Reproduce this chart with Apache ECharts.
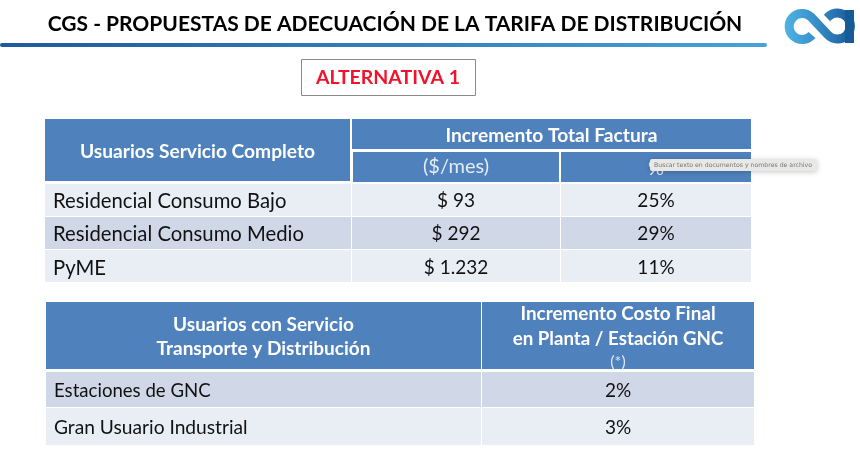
<!DOCTYPE html>
<html>
<head>
<meta charset="utf-8">
<style>html,body{margin:0;padding:0;background:#fff}#main{width:860px;height:461px}</style>
<script src="https://cdn.jsdelivr.net/npm/echarts@6/dist/echarts.min.js"></script>
</head>
<body>
<div id="main"></div>
<script>
const HEAD = '#4F81BD', LIGHT = '#E9EDF4', DARK = '#D0D8E8', NONE = 'transparent', FONT = 'Lato';

// celdas de las tablas: x0, x1, y0, y1, fondo, texto, color, tamaño, negrita, alineado, ajuste y
const cells = [
  [45, 350, 119, 181, HEAD, 'Usuarios Servicio Completo', '#fff', 19.2, 'bold', 'center', 2],
  [352, 751, 119, 149, HEAD, 'Incremento Total Factura', '#fff', 19.2, 'bold', 'center', 2],
  [353, 559, 152, 182, HEAD, '($/mes)', '#E4ECF6', 20, 'normal', 'center', 0],
  [561, 751, 152, 182, HEAD, '%', '#E4ECF6', 20, 'normal', 'center', 2],

  [45, 351, 184, 216, LIGHT, 'Residencial Consumo Bajo', '#111', 20.3, 'normal', 'left', 1],
  [352, 560, 184, 216, LIGHT, '$ 93', '#111', 19, 'normal', 'center', 1],
  [561, 751, 184, 216, LIGHT, '25%', '#111', 19, 'normal', 'center', 1],
  [45, 351, 217, 249, DARK, 'Residencial Consumo Medio', '#111', 20.3, 'normal', 'left', 1],
  [352, 560, 217, 249, DARK, '$ 292', '#111', 19, 'normal', 'center', 1],
  [561, 751, 217, 249, DARK, '29%', '#111', 19, 'normal', 'center', 1],
  [45, 351, 250, 282, LIGHT, 'PyME', '#111', 20.3, 'normal', 'left', 2],
  [352, 560, 250, 282, LIGHT, '$ 1.232', '#111', 19, 'normal', 'center', 2],
  [561, 751, 250, 282, LIGHT, '11%', '#111', 19, 'normal', 'center', 2],

  [46, 481, 302, 369, HEAD, '', '#fff', 19, 'bold', 'center', 0],
  [482, 754, 302, 369, HEAD, '', '#fff', 19, 'bold', 'center', 0],
  [46, 481, 313, 337, NONE, 'Usuarios con Servicio', '#fff', 19, 'bold', 'center', 0],
  [46, 481, 337, 361, NONE, 'Transporte y Distribución', '#fff', 19, 'bold', 'center', 0],
  [482, 754, 302, 326, NONE, 'Incremento Costo Final', '#fff', 18.9, 'bold', 'center', 0],
  [482, 754, 327, 351, NONE, 'en Planta / Estación GNC', '#fff', 18.7, 'bold', 'center', 0],
  [482, 754, 350, 374, NONE, '(*)', '#DDE6F2', 16, 'normal', 'center', 0],
  [46, 481, 372, 407, DARK, 'Estaciones de GNC', '#111', 18.6, 'normal', 'left', 1],
  [482, 754, 372, 407, DARK, '2%', '#111', 19, 'normal', 'center', 1],
  [46, 481, 408, 445, LIGHT, 'Gran Usuario Industrial', '#111', 19.2, 'normal', 'left', 1],
  [482, 754, 408, 445, LIGHT, '3%', '#111', 19, 'normal', 'center', 1]
];

const myChart = echarts.init(document.getElementById('main'), null, { renderer: 'canvas' });

function renderCell(params, api) {
  const c = cells[params.dataIndex];
  const p0 = api.coord([c[0], c[2]]);
  const p1 = api.coord([c[1], c[3]]);
  const left = c[9] === 'left';
  return {
    type: 'rect',
    shape: { x: p0[0], y: p0[1], width: p1[0] - p0[0], height: p1[1] - p0[1] },
    style: { fill: c[4] },
    textContent: {
      style: {
        text: c[5], fill: c[6], fontFamily: FONT, fontSize: c[7], fontWeight: c[8],
        align: c[9], verticalAlign: 'middle'
      }
    },
    textConfig: { position: left ? 'insideLeft' : 'inside', distance: 8, offset: [0, c[10]] }
  };
}

const logoBlue = new echarts.graphic.LinearGradient(786, 0, 853, 0, [
  { offset: 0, color: '#4DB2E2' },
  { offset: 0.4, color: '#3A93CC' },
  { offset: 1, color: '#175A98' }
], true);

// logo "ca": trazo en forma de infinito
function renderLogo() {
  return {
    type: 'path',
    shape: { pathData: 'M812 35 A13 13 0 1 1 811 17 L828 35 A13 13 0 1 0 828 17 L827 18' },
    style: { fill: 'none', stroke: logoBlue, lineWidth: 9 }
  };
}

myChart.setOption({
  animation: false,
  backgroundColor: '#fff',
  grid: { left: 0, right: 0, top: 0, bottom: 0 },
  xAxis: { type: 'value', min: 0, max: 860, show: false },
  yAxis: { type: 'value', min: 0, max: 461, inverse: true, show: false },
  series: [{
    type: 'custom',
    coordinateSystem: 'cartesian2d',
    renderItem: renderCell,
    data: cells.map(c => [c[0], c[1], c[2], c[3]]),
    encode: { x: [0, 1], y: [2, 3] },
    silent: true,
    z: 1
  }, {
    type: 'custom',
    coordinateSystem: 'cartesian2d',
    renderItem: renderLogo,
    data: [[820, 26]],
    silent: true,
    clip: false,
    z: 2
  }],
  graphic: [
    { type: 'text', z: 5, x: 395, y: 24, style: { text: 'CGS - PROPUESTAS DE ADECUACIÓN DE LA TARIFA DE DISTRIBUCIÓN', fontFamily: FONT, fontSize: 21, fontWeight: 'bold', fill: '#000', align: 'center', verticalAlign: 'middle' } },
    { type: 'rect', z: 5, shape: { x: 0, y: 43, width: 767, height: 4, r: 2 }, style: { fill: new echarts.graphic.LinearGradient(0, 0, 1, 0, [{ offset: 0, color: '#1F5A9E' }, { offset: 1, color: '#46A3D8' }]) } },
    { type: 'rect', z: 5, shape: { x: 301.5, y: 59.5, width: 174, height: 36 }, style: { fill: '#fff', stroke: '#8a8a8a', lineWidth: 1 } },
    { type: 'text', z: 6, x: 388, y: 78, style: { text: 'ALTERNATIVA 1', fontFamily: FONT, fontSize: 19.5, fontWeight: 'bold', fill: '#F0142A', align: 'center', verticalAlign: 'middle' } },
    { type: 'rect', z: 5, shape: { x: 845, y: 10, width: 9, height: 33 }, style: { fill: '#175A98' } },
    // aviso flotante sobre el %
    { type: 'rect', z: 7, shape: { x: 650, y: 159, width: 167, height: 12, r: 2 }, style: { fill: '#E8E8E6', shadowBlur: 5, shadowColor: 'rgba(0,0,0,0.22)', shadowOffsetY: 1 } },
    { type: 'text', z: 8, x: 654, y: 165, style: { text: 'Buscar texto en documentos y nombres de archivo', fontFamily: 'DejaVu Sans', fontSize: 6.2, fill: '#777', verticalAlign: 'middle' } }
  ]
});
</script>
</body>
</html>
